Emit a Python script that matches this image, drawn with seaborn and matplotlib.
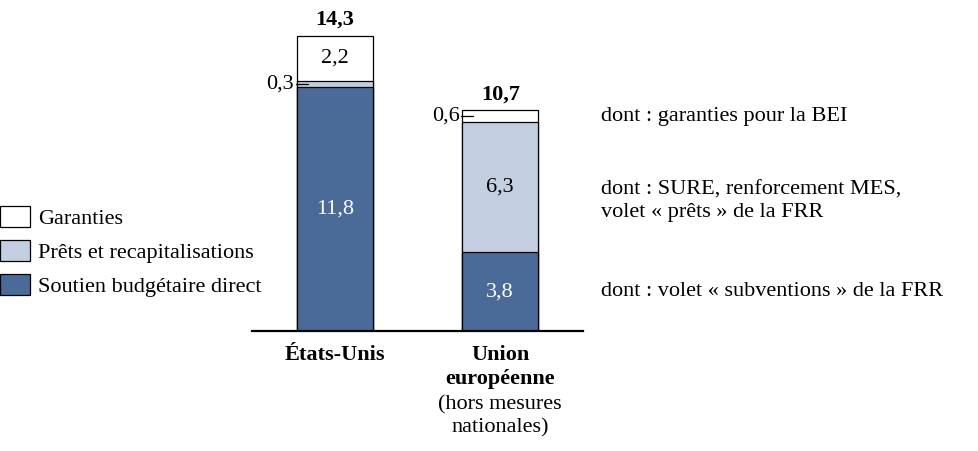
import numpy as np
import pandas as pd
import matplotlib
matplotlib.use("Agg")
import matplotlib.pyplot as plt
from matplotlib.patches import Patch
import seaborn as sns

# ---------------------------------------------------- data
regions = ["États-Unis", "Union européenne"]
soutien = [11.8, 3.8]
prets = [0.3, 6.3]
garanties = [2.2, 0.6]
totals = [14.3, 10.7]

series_names = ["Garanties", "Prêts et recapitalisations", "Soutien budgétaire direct"]
colors = {"Garanties": "#ffffff",
          "Prêts et recapitalisations": "#c3cee0",
          "Soutien budgétaire direct": "#4a6a97"}

notes = ["dont : garanties pour la BEI",
         "dont : SURE, renforcement MES,\nvolet « prêts » de la FRR",
         "dont : volet « subventions » de la FRR"]


def fmt(v):
    return f"{v:.1f}".replace(".", ",")


def main():
    sns.set_theme(style="white")
    plt.rcParams["font.family"] = ["Liberation Serif", "DejaVu Serif"]
    plt.rcParams["text.color"] = "black"
    plt.rcParams["xtick.labelcolor"] = "black"
    fs = 16
    ls = 1.25

    df = pd.DataFrame({"region": regions, "soutien": soutien,
                       "prets": prets, "garanties": garanties})
    df["lvl1"] = df["soutien"]
    df["lvl2"] = df["soutien"] + df["prets"]
    df["lvl3"] = df["lvl2"] + df["garanties"]

    fig = plt.figure(figsize=(9.79, 4.51), dpi=100)
    ax = fig.add_axes([0.2574, 0.2661, 0.3381, 0.687])

    w = 0.46
    # overlapping cumulative bars give the stacked look
    for col, name in [("lvl3", "Garanties"), ("lvl2", "Prêts et recapitalisations"),
                      ("lvl1", "Soutien budgétaire direct")]:
        sns.barplot(data=df, x="region", y=col, color=colors[name], saturation=1,
                    width=w, edgecolor="black", linewidth=0.9, ax=ax, errorbar=None)

    ax.set_xlim(-0.5, 1.5)
    ax.set_ylim(0, 15)
    for s in ["left", "right", "top"]:
        ax.spines[s].set_visible(False)
    ax.spines["bottom"].set_color("black")
    ax.spines["bottom"].set_linewidth(1.6)
    ax.set_yticks([])
    ax.set_xlabel("")
    ax.set_ylabel("")
    ax.set_xticks([0, 1])
    ax.set_xticklabels(["États-Unis", "Union\neuropéenne"], fontsize=fs,
                       fontweight="bold", linespacing=ls)
    ax.tick_params(axis="x", length=0, pad=10)
    ax.text(1, -3.1, "(hors mesures\nnationales)", ha="center", va="top",
            fontsize=fs, linespacing=ls)

    # values inside segments
    for i in range(len(regions)):
        s = soutien[i]
        ax.text(i, s / 2, fmt(s), ha="center", va="center", color="white", fontsize=fs)
        ax.annotate(fmt(totals[i]), (i, totals[i]), xytext=(0, 4),
                    textcoords="offset points", ha="center", va="bottom",
                    fontsize=fs, fontweight="bold")
    # big segments labelled inside
    ax.text(0, soutien[0] + prets[0] + garanties[0] / 2, fmt(garanties[0]),
            ha="center", va="center", fontsize=fs)
    ax.text(1, soutien[1] + prets[1] / 2, fmt(prets[1]),
            ha="center", va="center", fontsize=fs)
    # small segments labelled outside with a leader
    small = [(0, soutien[0] + prets[0] / 2, prets[0]),
             (1, soutien[1] + prets[1] + garanties[1] / 2, garanties[1])]
    for i, y, v in small:
        x0 = i - w / 2
        ax.plot([x0 - 0.006, x0 + 0.066], [y, y], color="black", lw=0.9, clip_on=False)
        ax.text(x0 - 0.015, y, fmt(v), ha="right", va="center", fontsize=fs)

    # notes on the right
    note_y = [soutien[1] + prets[1] + garanties[1] / 2, 6.3, soutien[1] / 2]
    for t, y in zip(notes, note_y):
        ax.text(1.608, y, t, ha="left", va="center", fontsize=fs,
                linespacing=ls, clip_on=False)

    handles = [Patch(facecolor=colors[n], edgecolor="black", linewidth=0.9)
               for n in series_names]
    fig.legend(handles, series_names, loc="upper left", bbox_to_anchor=(0.0, 0.543),
               frameon=False, fontsize=fs, handlelength=1.35, handleheight=1.05,
               handletextpad=0.35, labelspacing=0.5, borderaxespad=0, borderpad=0)

    fig.savefig("out.png", dpi=100)


if __name__ == "__main__":
    main()
